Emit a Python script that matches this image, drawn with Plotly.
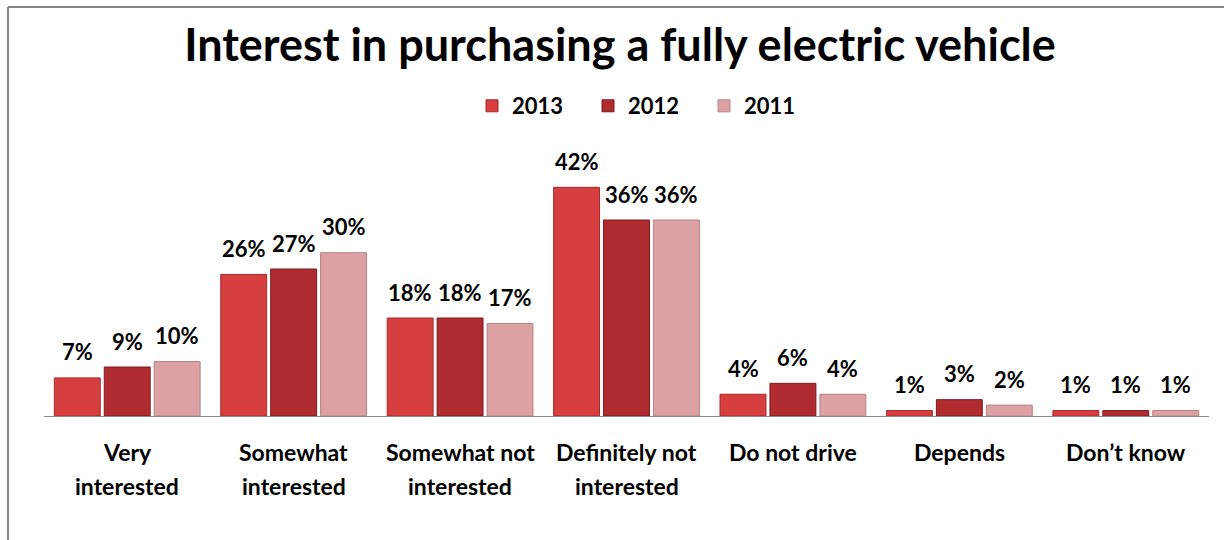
import plotly.graph_objects as go

categories = ["Very interested", "Somewhat interested", "Somewhat not interested",
              "Definitely not interested", "Do not drive", "Depends", "Don\u2019t know"]
cat_lines = [["Very", "interested"], ["Somewhat", "interested"], ["Somewhat not", "interested"],
             ["Definitely not", "interested"], ["Do not drive"], ["Depends"], ["Don\u2019t know"]]
series_names = ["2013", "2012", "2011"]
v2013 = [7, 26, 18, 42, 4, 1, 1]
v2012 = [9, 27, 18, 36, 6, 3, 1]
v2011 = [10, 30, 17, 36, 4, 2, 1]
values = [v2013, v2012, v2011]

colors = ["#d63e40", "#b02b2f", "#dca2a3"]
edges = ["#a82a2c", "#7e1c1f", "#b88384"]

FONT = "Lato"
W, H = 1224, 540
ML, MR, MT, MB = 44, 15, 171, 124
BARGAP = 0.1

fig = go.Figure()
for name, vals, c, e in zip(series_names, values, colors, edges):
    fig.add_trace(go.Bar(
        name=name, x=categories, y=vals,
        marker=dict(color=c, line=dict(color=e, width=1)),
        cliponaxis=False,
    ))

pw = W - ML - MR
ph = H - MT - MB
cat_px = pw / len(categories)
slot = cat_px * (1 - BARGAP) / len(series_names)

annotations = []
# value labels
for i, vals in enumerate(values):
    off = (i - (len(series_names) - 1) / 2) * slot
    for cat, v in zip(categories, vals):
        annotations.append(dict(
            x=cat, xref="x", y=v, yref="y", xshift=off, yshift=26,
            text=f"{v}%", showarrow=False, yanchor="middle", xanchor="center",
            font=dict(family=FONT, size=22, color="black", weight="bold"),
        ))
# category labels
for cat, lines in zip(categories, cat_lines):
    for i, ln in enumerate(lines):
        annotations.append(dict(
            x=cat, xref="x", y=0, yref="paper", yshift=-36 - 34 * i,
            text=ln, showarrow=False, yanchor="middle", xanchor="center",
            font=dict(family=FONT, size=23, color="black", weight="bold"),
        ))

fx = (8 - ML) / pw
fy = (H - MB - 7) / ph
fyb = (H - MB - H - 5) / ph
shapes = [
    dict(type="line", xref="paper", yref="paper", x0=fx, x1=(W + 5 - ML) / pw, y0=fy, y1=fy,
         line=dict(color="#868686", width=2)),
    dict(type="line", xref="paper", yref="paper", x0=fx, x1=fx, y0=fy, y1=fyb,
         line=dict(color="#868686", width=2)),
]

fig.update_layout(
    width=W, height=H,
    margin=dict(l=ML, r=MR, t=MT, b=MB),
    paper_bgcolor="white", plot_bgcolor="white",
    barmode="group", bargap=BARGAP, bargroupgap=0.08,
    title=dict(text="Interest in purchasing a fully electric vehicle",
               x=620 / W, xanchor="center", y=1 - 45 / H, yanchor="middle",
               font=dict(family=FONT, size=45, color="black", weight="bold")),
    legend=dict(orientation="h", x=(646 - ML) / pw, xanchor="center",
                y=(H - MB - 106) / ph, yanchor="middle",
                font=dict(family=FONT, size=22, color="black", weight="bold"),
                entrywidth=71, entrywidthmode="pixels", itemwidth=30,
                bgcolor="rgba(0,0,0,0)"),
    xaxis=dict(showticklabels=False, showline=True, linecolor="#8c8c8c", linewidth=1,
               ticks="", showgrid=False, zeroline=False),
    yaxis=dict(range=[0, 45], visible=False, showgrid=False, zeroline=False),
    annotations=annotations,
    shapes=shapes,
    showlegend=True,
)

fig.write_html("out.html")
